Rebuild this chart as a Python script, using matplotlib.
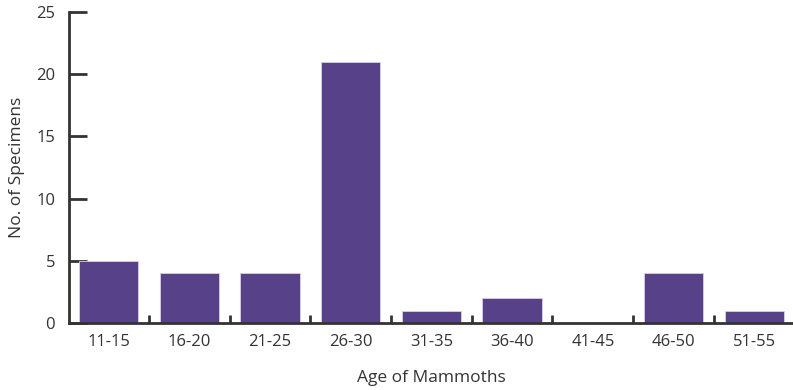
import matplotlib
matplotlib.use("Agg")
import matplotlib.pyplot as plt
import numpy as np

categories = ["11-15", "16-20", "21-25", "26-30", "31-35", "36-40", "41-45", "46-50", "51-55"]
values = [5, 4, 4, 21, 1, 2, 0, 4, 1]

plt.rcParams['font.family'] = ['Open Sans', 'DejaVu Sans']
dark = "#333333"

fig = plt.figure(figsize=(7.93, 3.9), dpi=100)
ax = fig.add_axes([69/793, 1-323/390, 1-69/793, (323-12)/390])

x = np.arange(len(categories))
ax.bar(x, values, width=0.735, color="#574189", edgecolor="#d8d0ea", linewidth=0.6, zorder=2)

ax.set_xlim(-0.49, 8.48)
ax.set_ylim(0, 25)
ax.set_yticks([0, 5, 10, 15, 20, 25])

ax.set_xticks(x[:-1] + 0.5)
ax.set_xticks(x, minor=True)
ax.set_xticklabels([])
ax.set_xticklabels(categories, minor=True)
ax.tick_params(axis='x', which='major', direction='in', length=6, width=2, color=dark)
ax.tick_params(axis='x', which='minor', length=0, pad=8, labelsize=12, labelcolor=dark)
ax.tick_params(axis='y', direction='in', length=13, width=2, color=dark, pad=10,
               labelsize=12, labelcolor=dark)

for s in ['top', 'right']:
    ax.spines[s].set_visible(False)
for s in ['left', 'bottom']:
    ax.spines[s].set_color(dark)
    ax.spines[s].set_linewidth(2)
    ax.spines[s].set_zorder(3)

ax.set_xlabel("Age of Mammoths", fontsize=12.5, color=dark, labelpad=14)
ax.set_ylabel("No. of Specimens", fontsize=12.5, color=dark, labelpad=8)

fig.savefig("out.png", dpi=100)
